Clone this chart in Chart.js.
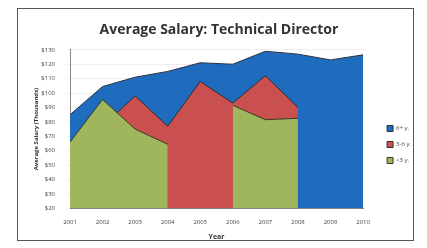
<!DOCTYPE html>
<html>
<head>
<meta charset="utf-8">
<script src="https://cdn.jsdelivr.net/npm/chart.js@4/dist/chart.umd.min.js"></script>
<style>
  html, body { margin: 0; padding: 0; background: #fff; }
  #wrap { position: relative; width: 427px; height: 248px; }
  #frame { position: absolute; left: 17px; top: 8px; width: 395px; height: 231px; border: 1px solid #555; }
  canvas { position: absolute; left: 0; top: 0; }
</style>
</head>
<body>
<div id="wrap">
  <div id="frame"></div>
  <canvas id="myChart" width="427" height="248"></canvas>
</div>
<script>
const years = ['2001', '2002', '2003', '2004', '2005', '2006', '2007', '2008', '2009', '2010'];
const seniorSalary = [85, 104.5, 111, 115, 121, 120, 129, 127, 123, 126.5];   // 6+ y.
const midSalary = [63, 77, 98, 77, 108, 93, 112, 90, null, null];            // 3-6 y.
const juniorSalary = [66, 95.5, 75, 64.5, null, 91.5, 81.5, 82.5, null, null]; // <3 y.
const seriesLabels = ['6+ y.', '3-6 y.', '<3 y.'];

const tickFont = { family: 'Open Sans', size: 6 };

const chartData = {
  labels: years,
  datasets: [
    {
      label: seriesLabels[0],
      data: seniorSalary,
      backgroundColor: '#1f6cbf',
      borderColor: '#2b3340',
      borderWidth: 1,
      fill: 'origin',
      pointRadius: 0,
      order: 3
    },
    {
      label: seriesLabels[1],
      data: midSalary,
      backgroundColor: '#c9504f',
      borderColor: '#3a2a2a',
      borderWidth: 1,
      fill: 'origin',
      pointRadius: 0,
      order: 2
    },
    {
      label: seriesLabels[2],
      data: juniorSalary,
      backgroundColor: '#a0b65c',
      borderColor: '#3a3a2a',
      borderWidth: 1,
      fill: 'origin',
      pointRadius: 0,
      order: 1
    }
  ]
};

// nudge the legend away from the plot, like the original
const legendShift = {
  id: 'legendShift',
  beforeDraw(chart) {
    const lg = chart.legend;
    const w = lg.right - lg.left;
    lg.left = chart.chartArea.right + 14;
    lg.right = lg.left + w;
    const h = lg.bottom - lg.top;
    lg.top = 33;
    lg.bottom = lg.top + h;
  }
};

const chartOptions = {
  responsive: false,
  animation: false,
  spanGaps: false,
  layout: { padding: { top: 22, left: 31, right: 20, bottom: 3 } },
  plugins: {
    title: {
      display: true,
      text: 'Average Salary: Technical Director',
      color: '#333',
      font: { family: 'Open Sans', size: 14, weight: 'bold' },
      padding: { top: 0, bottom: 11 }
    },
    legend: {
      position: 'right',
      labels: {
        boxWidth: 6,
        boxHeight: 6,
        padding: 10,
        color: '#444',
        font: tickFont,
        sort: (a, b) => a.datasetIndex - b.datasetIndex
      }
    },
    tooltip: { enabled: false }
  },
  scales: {
    x: {
      offset: false,
      grid: { display: false, drawTicks: true, tickLength: 3 },
      border: { color: '#888' },
      ticks: { color: '#444', font: tickFont, maxRotation: 0, padding: 7 },
      title: { display: true, text: 'Year', color: '#333', font: { family: 'Open Sans', size: 7, weight: 'bold' }, padding: { top: 0 } }
    },
    y: {
      min: 20,
      max: 130,
      afterFit: scale => { scale.width = 39; },
      grid: { color: '#eee', tickLength: 3 },
      border: { color: '#888' },
      ticks: {
        stepSize: 10,
        color: '#444',
        font: tickFont,
        padding: 12,
        callback: v => '$' + v
      },
      title: { display: true, text: 'Average Salary (Thousands)', color: '#333', font: { family: 'Open Sans', size: 6, weight: 'bold' }, padding: 2 }
    }
  }
};

new Chart(document.getElementById('myChart'), {
  type: 'line',
  data: chartData,
  options: chartOptions,
  plugins: [legendShift]
});
</script>
</body>
</html>
